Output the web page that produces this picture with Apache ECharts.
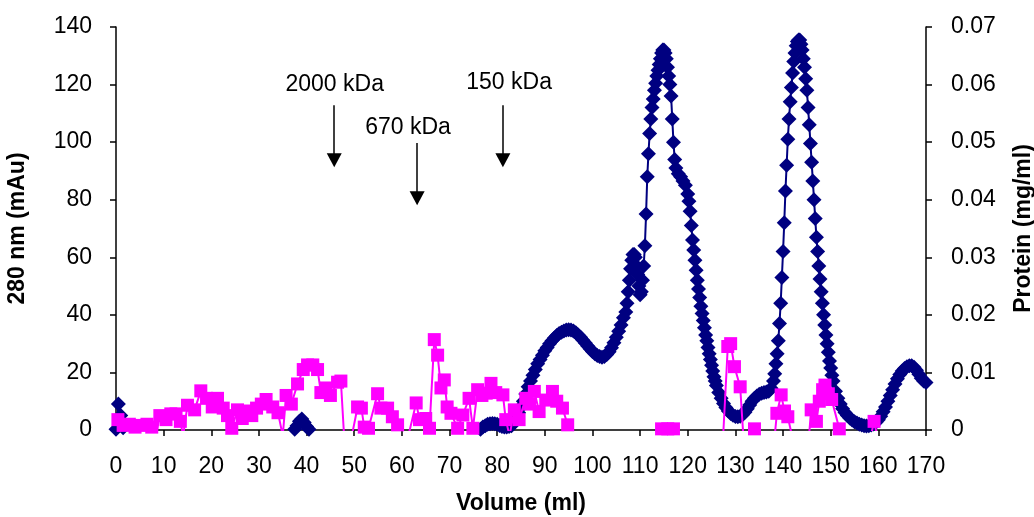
<!DOCTYPE html>
<html>
<head>
<meta charset="utf-8">
<script src="https://cdn.jsdelivr.net/npm/echarts@6/dist/echarts.min.js"></script>
<style>
html,body{margin:0;padding:0;background:#fff;}
#chart{width:1034px;height:517px;}
</style>
</head>
<body>
<div id="chart"></div>
<script>
// ---- Data (volume in ml, A280 in mAu, protein in mg/ml) ----
const a280Start = [[0,0.3],[0.5,9],[1,5],[1.5,0.8]];
const a280Early = [[37.5,0.3],[38,1.5],[38.5,3],[39,3.8],[39.5,2.6],[40,1.2],[40.5,0.3]];
const a280Main = [
[76.5,0.3],[77,1],[77.5,1.5],[78,2],[78.5,2.2],[79,2.3],[79.5,2.2],[80,2],[80.5,1.6],[81,1.2],[81.5,1],[82,1],[82.5,1.2],[83,1.5],[83.5,2.5],[84,4],[84.5,6],[85,8],[85.5,10],[86,12.5],[86.5,15],[87,17],[87.5,19],[88,21],[88.5,23],[89,24.5],[89.5,26],[90,27.5],[90.5,28.7],[91,30],[91.5,31],[92,32],[92.5,32.8],[93,33.5],[93.5,34],[94,34.4],[94.5,34.7],[95,34.8],[95.5,34.7],[96,34.4],[96.5,33.8],[97,33],[97.5,32.2],[98,31.2],[98.5,30.2],[99,29.2],[99.5,28.2],[100,27.3],[100.5,26.5],[101,25.9],[101.5,25.5],[102,25.3],[102.5,25.5],[103,26.2],[103.5,27.2],[104,28.6],[104.5,30.3],[105,32.2],[105.5,34.3],[106,36.5],[106.5,39],
[107,41],[107.25,44],[107.5,48],[107.75,52],[108,56],[108.25,59],[108.5,61],[108.75,61],[109,60],[109.25,57],[109.5,54],[109.75,50],[110,47],
[110.25,48],[110.5,52],[110.75,57],[111,64],[111.25,75],[111.5,88],[111.75,96],[112,103],[112.25,108],[112.5,112],[112.75,115],[113,118],[113.25,120.5],[113.5,123],[113.75,125],[114,127],[114.25,129],[114.5,131],[114.75,132],[115,132],[115.25,131],[115.5,129],[115.75,126],[116,123],[116.25,120],[116.5,116],[116.75,108],[117,100],[117.25,94],[117.5,91],
[118,89],[118.5,88],[119,86.5],[119.5,85],
[120,82],[120.25,79.5],[120.5,76],[120.75,71],[121,66],[121.25,62.5],[121.5,59],[121.75,55.5],[122,52],[122.25,49],[122.5,46],[122.75,43],[123,40.5],[123.25,38],[123.5,35.5],[123.75,33],[124,31],[124.25,28.7],[124.5,26.5],[124.75,24.5],[125,22.5],[125.25,20.5],[125.5,18.5],[125.75,17],[126,15.5],
[126.5,13],[127,11],[127.5,9.2],[128,7.8],[128.5,6.6],[129,5.7],[129.5,5.1],[130,4.7],[130.5,4.6],[131,4.8],[131.5,5.3],[132,6.2],[132.5,7.4],[133,8.7],[133.5,10],[134,11],[134.5,11.8],[135,12.4],[135.5,12.8],[136,13],[136.5,13.2],[137,13.5],[137.5,14.5],
[138,17],[138.25,19.5],[138.5,23],[138.75,26.5],[139,31],[139.25,37],[139.5,44],[139.75,53],[140,62],[140.25,72],[140.5,83],[140.75,92],[141,101],[141.25,108],[141.5,114],[141.75,119],[142,124],[142.25,128],[142.5,131],[142.75,133.5],[143,135],[143.25,135.5],[143.5,135.5],[143.75,134],[144,132],[144.25,129],[144.5,126],[144.75,122],[145,118],[145.25,112],[145.5,106],[145.75,99.5],[146,93],[146.25,86.5],[146.5,80],[146.75,73.5],[147,67],[147.25,62],[147.5,57],[147.75,52.5],[148,48],[148.25,44],[148.5,40],[148.75,36.5],[149,33],[149.25,30],[149.5,27],[149.75,24],[150,21.5],[150.25,19],[150.5,17],
[151,13.5],[151.5,11],[152,9],[152.5,7.4],[153,6.1],[153.5,5],[154,4.2],[154.5,3.5],[155,2.9],[155.5,2.4],[156,2],[156.5,1.7],[157,1.5],[157.5,1.4],[158,1.5],[158.5,1.7],[159,2.1],[159.5,2.7],[160,3.6],[160.5,4.8],[161,6.3],[161.5,8],[162,10],[162.5,12],[163,14],[163.5,16],[164,17.8],[164.5,19.3],[165,20.5],[165.5,21.4],[166,22],[166.5,22.3],[167,22.3],[167.5,21.8],[168,20.8],[168.5,19.4],[169,18],[169.5,17],[170,16.5]
];
const proteinVolume = [0.4,1.5,2.8,4,5.2,6.5,7.5,8.4,9.2,10.5,11.5,12.6,13.5,14.1,15,16.5,17.8,19,20.2,21.3,22.5,23.4,24.3,25.5,26.5,27.5,28.5,29.5,30.5,31.5,32.9,34,35,35.7,36.8,38.1,39.3,40.2,41.3,42.3,43,44,45,46.5,47.2,47.9,49.5,50.7,51.5,52.1,53,54.9,55.6,57,58,59.1,60.2,61.5,63,63.7,65,65.8,66.8,67.5,68.2,68.9,69.5,70.3,71.7,72.8,74.1,74.9,75.9,76.8,77.7,78.7,79.7,81.2,81.8,82.6,83.6,84.6,86,86.8,87.8,88.8,90.2,91.6,92.5,93.7,94.8,95.5,100,108,113.5,114.5,115.8,117,118,124,127.4,128.4,129,129.8,131,131.7,133,134,135,138.2,138.7,139.6,140.3,141,142,145.4,145.9,147,147.6,148.3,148.8,149.5,150.2,151.8,153.5,158.3,159.1,159.9,165];
const proteinConc = [0.0018,0.0008,0.0010,0.0005,0.0008,0.0010,0.0005,-0.0010,0.0025,0.0018,0.0028,0.0028,0.0015,-0.0010,0.0043,0.0035,0.0068,0.0055,0.0040,0.0055,0.0038,0.0025,0.0003,0.0035,0.0020,0.0033,0.0025,0.0038,0.0045,0.0053,0.0040,0.0030,-0.0010,0.0060,0.0045,0.0080,0.0105,0.0113,0.0113,0.0105,0.0065,0.0073,0.0060,0.0083,0.0085,-0.0015,-0.0010,0.0040,0.0038,0.0005,0.0003,0.0063,0.0038,0.0038,0.0023,0.0009,-0.0010,-0.0005,0.0047,0.0018,0.0020,0.0003,0.0157,0.0130,0.0073,0.0087,0.0040,0.0029,0.0003,0.0026,0.0055,0.0003,0.0070,0.0060,0.0064,0.0081,0.0065,0.0061,0.0018,-0.0010,0.0035,0.0018,0.0055,0.0045,0.0067,0.0032,0.0052,0.0067,0.0050,0.0038,0.0009,-0.0020,-0.0015,-0.0020,-0.0015,0.0002,0.0002,0.0002,-0.0015,-0.0020,-0.0015,0.0145,0.0150,0.0110,0.0075,-0.0015,-0.0010,0.0002,-0.0015,-0.0015,0.0029,0.0061,0.0033,0.0023,-0.0015,-0.0015,0.0035,0.0015,0.0050,0.0070,0.0078,0.0063,0.0053,0.0002,-0.0008,-0.0015,0.0015,-0.0015,-0.0015];

// Molecular weight markers
const markerLabels = ['2000 kDa','670 kDa','150 kDa'];
const markerVolume = [45.8, 63.2, 81.2];
const markerArrowTop = [112.8, 99.7, 112.8];
const markerArrowEnd = [93.7, 80.5, 93.7];
const markerTextVolume = [45.9, 61.3, 82.5];
const markerTextLevel = [120, 105, 120.5];

const FONT = '"Liberation Sans", Arial, sans-serif';
const NAVY = '#000080';
const MAGENTA = '#FF00FF';

const chart = echarts.init(document.getElementById('chart'), null, {renderer:'canvas'});

function blueSeries(data){
  return {
    type:'line', data:data, yAxisIndex:0, clip:true,
    symbol:'diamond', symbolSize:15, showAllSymbol:true,
    itemStyle:{color:NAVY}, lineStyle:{color:NAVY,width:2},
    emphasis:{disabled:true}, silent:true, z:2
  };
}

const axisText = {color:'#000', fontFamily:FONT, fontSize:23};
const axisLine = {show:true, lineStyle:{color:'#000', width:1.5}};

chart.setOption({
  animation:false,
  backgroundColor:'#fff',
  grid:{left:116, right:108, top:27, bottom:87, containLabel:false, outerBoundsMode:'none'},
  xAxis:{
    type:'value', min:0, max:170, interval:10,
    name:'Volume (ml)', nameLocation:'middle', nameGap:62,
    nameTextStyle:{color:'#000', fontFamily:FONT, fontSize:23, fontWeight:'bold'},
    axisLine:axisLine, axisTick:{show:true, length:6, lineStyle:{color:'#000', width:1.5}},
    axisLabel:Object.assign({margin:25}, axisText),
    splitLine:{show:false}
  },
  yAxis:[{
    type:'value', min:0, max:140, interval:20,
    name:'280 nm (mAu)', nameLocation:'middle', nameGap:87, nameRotate:90,
    nameTextStyle:{color:'#000', fontFamily:FONT, fontSize:23, fontWeight:'bold'},
    axisLine:axisLine, axisTick:{show:true, length:6, lineStyle:{color:'#000', width:1.5}},
    axisLabel:Object.assign({margin:24}, axisText),
    splitLine:{show:false}
  },{
    type:'value', min:0, max:0.07, interval:0.01, position:'right',
    name:'Protein (mg/ml)', nameLocation:'middle', nameGap:86, nameRotate:90,
    nameTextStyle:{color:'#000', fontFamily:FONT, fontSize:23, fontWeight:'bold'},
    axisLine:axisLine, axisTick:{show:true, length:6, lineStyle:{color:'#000', width:1.5}},
    axisLabel:Object.assign({margin:25, formatter:v => v===0 ? '0' : v.toFixed(2)}, axisText),
    splitLine:{show:false}
  }],
  series:[
    blueSeries(a280Start),
    blueSeries(a280Early),
    blueSeries(a280Main),
    {
      type:'line', yAxisIndex:1, clip:true,
      data: proteinVolume.map((v,i)=>[v, proteinConc[i]]),
      symbol:'rect', symbolSize:13, showAllSymbol:true,
      itemStyle:{color:MAGENTA}, lineStyle:{color:MAGENTA,width:2},
      emphasis:{disabled:true}, silent:true, z:3
    },
    {
      type:'scatter', yAxisIndex:0, silent:true, z:4,
      data: markerLabels.map((t,i)=>[markerTextVolume[i], markerTextLevel[i], t]),
      symbolSize:1, itemStyle:{color:'rgba(0,0,0,0)', opacity:1},
      label:{show:true, position:'inside', formatter:p=>p.value[2], color:'#000', opacity:1, fontFamily:FONT, fontSize:23},
      markLine:{
        silent:true, symbol:['none','triangle'], symbolSize:[15,14],
        label:{show:false},
        lineStyle:{color:'#000', width:1.5, type:'solid', opacity:1},
        data: markerVolume.map((x,i)=>[{coord:[x, markerArrowTop[i]]},{coord:[x, markerArrowEnd[i]]}])
      }
    }
  ]
});
</script>
</body>
</html>
